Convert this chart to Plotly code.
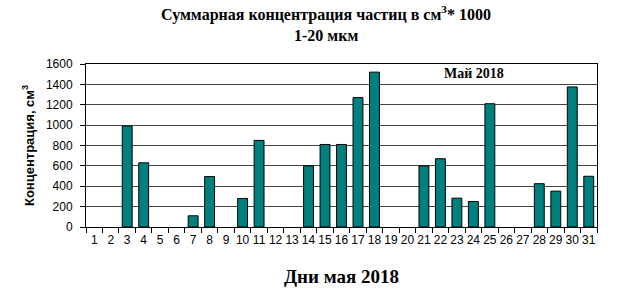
import plotly.graph_objects as go

days = [str(d) for d in range(1, 32)]
values = [None, None, 990, 630, None, None, 110, 495, None, 280, 850, None, None, 600,
          810, 810, 1270, 1520, None, None, 600, 670, 283, 250, 1210, None, None, 425, 352, 1375, 498]
y_ticks = [0, 200, 400, 600, 800, 1000, 1200, 1400, 1600]

serif = "Liberation Serif, Times New Roman, serif"

fig = go.Figure()
fig.add_trace(go.Bar(
    x=days, y=values,
    marker=dict(color="#007F7F", line=dict(color="black", width=1)),
    width=0.6,
))

fig.update_layout(
    width=639, height=289,
    margin=dict(l=86, r=42, t=64, b=62),
    paper_bgcolor="white", plot_bgcolor="white",
    showlegend=False,
    font=dict(family="Liberation Sans, Arial", size=12, color="black"),
    xaxis=dict(
        type="category", tickson="boundaries", ticks="outside", ticklen=5,
        tickcolor="black", showline=True, linecolor="black", linewidth=1, mirror=True,
        showgrid=False, range=[-0.5, 30.5], tickangle=0, ticklabelstandoff=2,
        automargin=False,
        title=dict(text="Дни мая 2018", standoff=23,
                   font=dict(family=serif, size=19, color="black", weight="bold")),
        tickfont=dict(size=12),
    ),
    yaxis=dict(
        range=[0, 1600], tickvals=y_ticks, ticks="outside", ticklen=5, tickcolor="black",
        showline=True, linecolor="black", linewidth=1, mirror=True,
        showgrid=True, gridcolor="#444444", gridwidth=1, zeroline=False,
        ticklabelstandoff=5, automargin=False,
        title=dict(text="Концентрация, см<sup>3</sup>", standoff=8,
                   font=dict(family="Liberation Sans, Arial", size=13, color="black", weight="bold")),
        tickfont=dict(size=12),
    ),
    annotations=[
        dict(text="Суммарная концентрация частиц в см<sup>3</sup>* 1000",
             x=0.47, y=1.31, xref="paper", yref="paper", showarrow=False,
             xanchor="center", yanchor="middle",
             font=dict(family=serif, size=16, color="black", weight="bold")),
        dict(text="1-20 мкм",
             x=0.47, y=1.175, xref="paper", yref="paper", showarrow=False,
             xanchor="center", yanchor="middle",
             font=dict(family=serif, size=16, color="black", weight="bold")),
        dict(text="Май 2018", x=0.76, y=0.94, xref="paper", yref="paper",
             showarrow=False, xanchor="center", yanchor="middle",
             font=dict(family=serif, size=14, color="black", weight="bold")),
    ],
)

fig.write_html("out.html")
